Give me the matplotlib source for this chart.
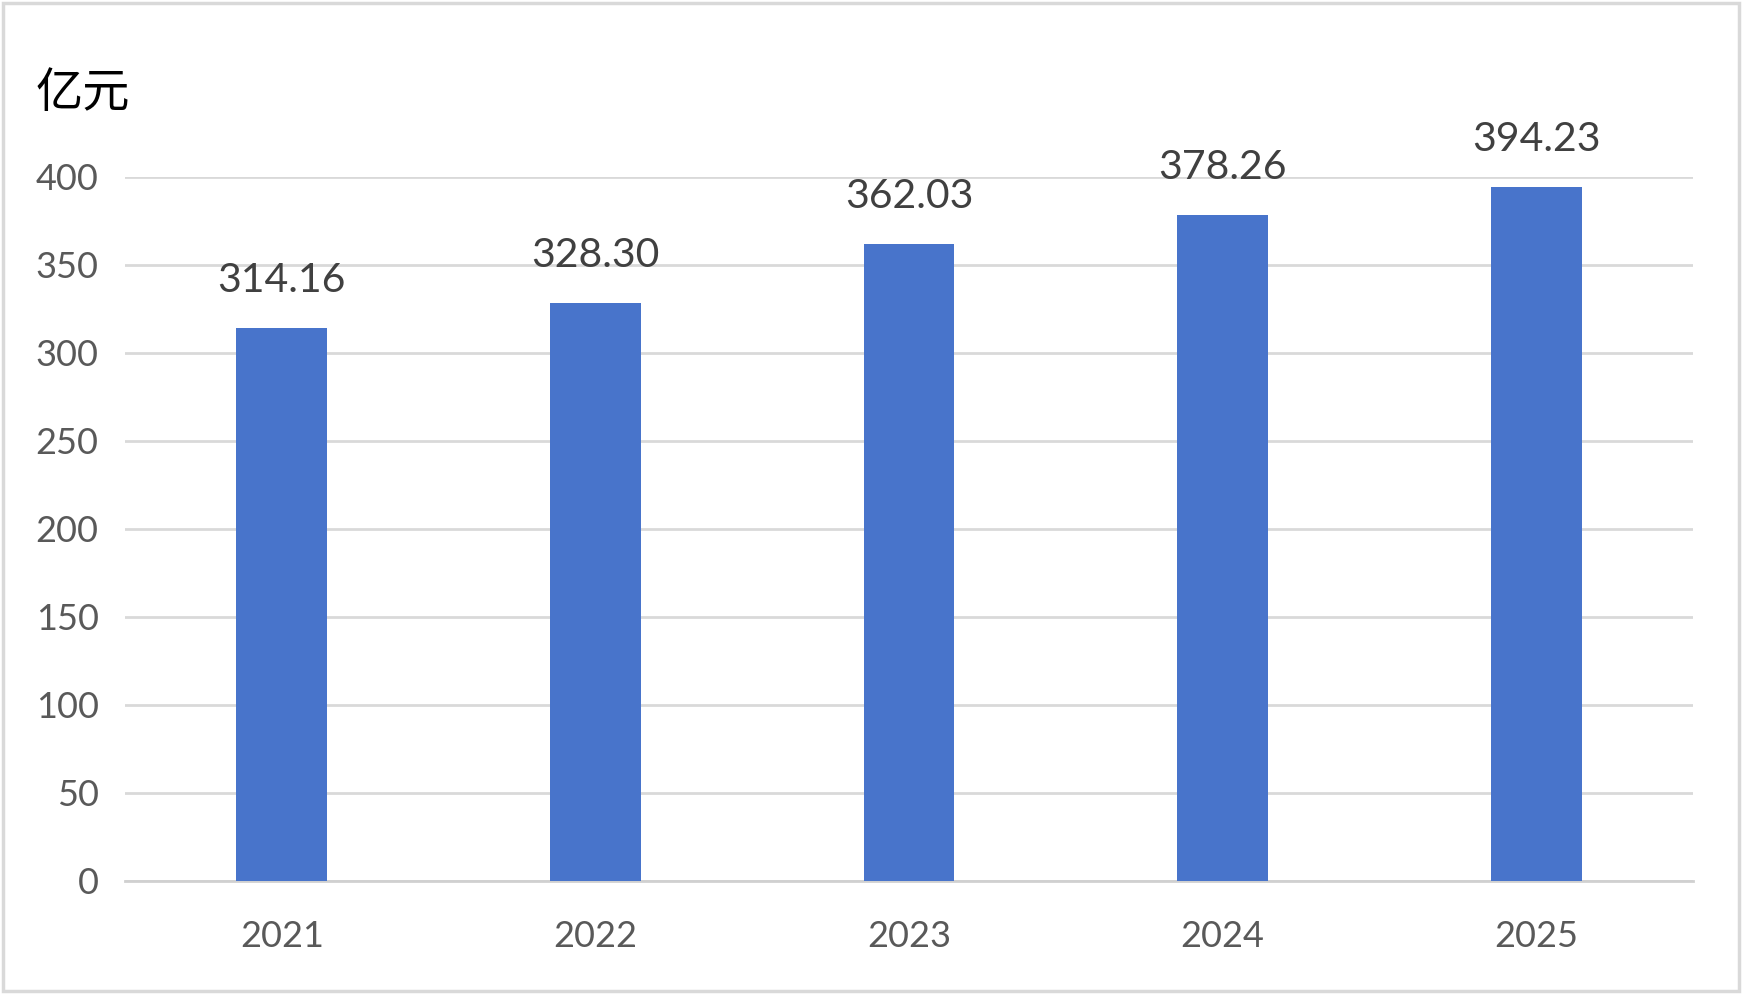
import numpy as np
import matplotlib.pyplot as plt
from matplotlib.patches import Rectangle

years = ['2021', '2022', '2023', '2024', '2025']
values = [314.16, 328.30, 362.03, 378.26, 394.23]
yticks = [0, 50, 100, 150, 200, 250, 300, 350, 400]

bar_color = '#4874CB'
grid_color = '#D9D9D9'

plt.rcParams['font.family'] = ['Lato', 'Noto Sans CJK SC', 'DejaVu Sans']

fig = plt.figure(figsize=(17.46, 9.94), dpi=100)
ax = fig.add_axes([125/1746, 1 - 881/994, (1693-125)/1746, (881-177)/994])

x = np.arange(len(years))
ax.bar(x, values, width=0.29, color=bar_color, zorder=3)

for xi, v in zip(x, values):
    ax.annotate('{:.2f}'.format(v), (xi, v), xytext=(0, 26), textcoords='offset points',
                ha='center', va='baseline', fontsize=29.5, color='#404040')

ax.set_xlim(-0.5, len(years) - 0.5)
ax.set_ylim(0, 400)
ax.set_yticks(yticks)
ax.set_xticks(x)
ax.set_xticklabels(years)
ax.tick_params(axis='y', length=0, pad=19, labelsize=26, labelcolor='#595959')
ax.tick_params(axis='x', length=0, pad=28, labelsize=26, labelcolor='#595959')
ax.grid(axis='y', color=grid_color, linewidth=2, zorder=0)

for s in ['top', 'right', 'left']:
    ax.spines[s].set_visible(False)
ax.spines['bottom'].set_color('#D0D0D0')
ax.spines['bottom'].set_linewidth(2)

fig.text(36/1746, 1 - 107/994, '亿元', fontsize=34, color='#000000',
         family=['Noto Sans CJK SC', 'DejaVu Sans'], weight='light', ha='left', va='baseline')

fig.patches.append(Rectangle((0.002, 0.003), 0.994, 0.994, transform=fig.transFigure,
                             fill=False, edgecolor='#D9D9D9', linewidth=2.5))

fig.savefig('out.png', dpi=100)
